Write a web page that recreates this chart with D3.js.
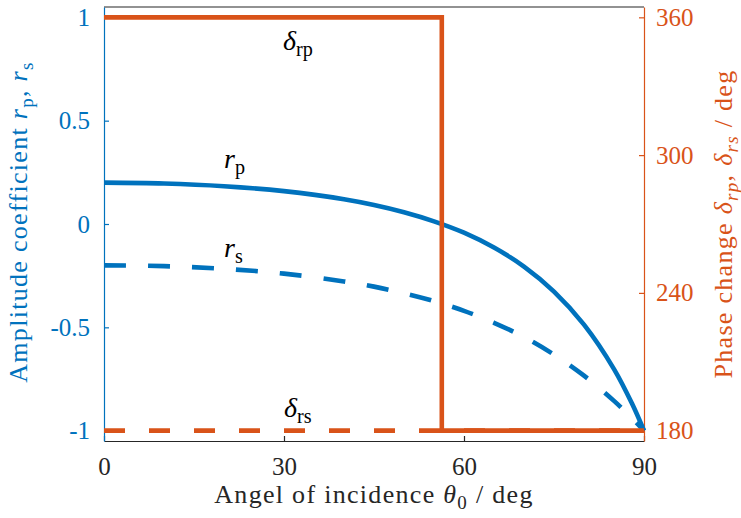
<!DOCTYPE html>
<html><head><meta charset="utf-8"><script src="https://cdn.jsdelivr.net/npm/d3@7"></script></head>
<body style="margin:0">
<svg id="chart" width="741" height="518" style="display:block;font-family:'Liberation Serif'"></svg>
<script>
// Fresnel reflection, air -> glass: amplitude coefficients and phase changes
const angles = [0, 10, 20, 30, 40, 45, 50, 55, 60, 65, 70, 75, 80, 85, 88, 90];
const rp = [0.200, 0.196, 0.183, 0.159, 0.120, 0.092, 0.057, 0.013, -0.042, -0.114, -0.206, -0.327, -0.487, -0.702, -0.869, -1.000];
const rs = [-0.200, -0.204, -0.217, -0.240, -0.278, -0.303, -0.335, -0.373, -0.420, -0.478, -0.547, -0.632, -0.734, -0.856, -0.940, -1.000];

const phaseRpAngles = [0, 56.3, 56.3, 90];
const phaseRp = [360, 360, 180, 180];
const phaseRsAngles = [0, 90];
const phaseRs = [180, 180];

const xTicks = [0, 30, 60, 90];
const leftTicks = [-1, -0.5, 0, 0.5, 1];
const leftTickLabels = ["-1", "-0.5", "0", "0.5", "1"];
const rightTicks = [180, 240, 300, 360];

const BLUE = "#0072BD", ORANGE = "#D95319", DARK = "#262626";
const FONT = '"Liberation Serif"';

const svg = d3.select("#chart");
const plotLeft = 104, plotRight = 644, plotTop = 7, plotBottom = 441;

const x = d3.scaleLinear().domain([0, 90]).range([plotLeft, plotRight]);
const yL = d3.scaleLinear().domain([-1.05, 1.05]).range([plotBottom, plotTop]);
const yR = d3.scaleLinear().domain([175.5, 364.5]).range([plotBottom, plotTop]);

// style an axis; labels are placed from their measured width ("end", "middle" or "start")
function styleTicks(g, color, anchor) {
  g.attr("font-family", null).attr("font-size", null).attr("text-anchor", null);
  g.select(".domain").attr("stroke", color).attr("stroke-width", 1.2);
  g.selectAll(".tick line").attr("stroke", color).attr("stroke-width", 1.2);
  g.selectAll(".tick text")
    .style("fill", color).style("font-family", FONT).style("font-size", "25px")
    .each(function () {
      const t = d3.select(this);
      const w = this.getComputedTextLength();
      const x0 = +t.attr("x") || 0;
      if (anchor === "end") t.attr("x", x0 - w);
      else if (anchor === "middle") t.attr("x", x0 - w / 2);
    });
}

// frame top line
svg.append("line").attr("x1", plotLeft).attr("x2", plotRight).attr("y1", plotTop).attr("y2", plotTop)
  .attr("stroke", DARK).attr("stroke-width", 1.2);

// bottom axis
const xAxis = d3.axisBottom(x).tickValues(xTicks).tickSizeInner(-5).tickSizeOuter(0).tickPadding(16);
const gx = svg.append("g").attr("transform", `translate(0,${plotBottom})`).call(xAxis);
styleTicks(gx, DARK, "middle");

// left axis
const yAxisL = d3.axisLeft(yL).tickValues(leftTicks).tickFormat((d, i) => leftTickLabels[i])
  .tickSizeInner(-5).tickSizeOuter(0).tickPadding(14);
const gl = svg.append("g").attr("transform", `translate(${plotLeft},0)`).call(yAxisL);
styleTicks(gl, BLUE, "end");

// right axis
const yAxisR = d3.axisRight(yR).tickValues(rightTicks).tickSizeInner(-5).tickSizeOuter(0).tickPadding(12);
const gr = svg.append("g").attr("transform", `translate(${plotRight},0)`).call(yAxisR);
styleTicks(gr, ORANGE, "start");

// amplitude curves
const lineL = d3.line().x((d, i) => x(angles[i])).y(d => yL(d)).curve(d3.curveCatmullRom);
svg.append("path").attr("d", lineL(rp)).attr("fill", "none")
  .attr("stroke", BLUE).attr("stroke-width", 4.6);
svg.append("path").attr("d", lineL(rs)).attr("fill", "none")
  .attr("stroke", BLUE).attr("stroke-width", 4.6).attr("stroke-dasharray", "22 22");

// phase curves
const lineRs = d3.line().x((d, i) => x(phaseRsAngles[i])).y(d => yR(d));
svg.append("path").attr("d", lineRs(phaseRs)).attr("fill", "none")
  .attr("stroke", ORANGE).attr("stroke-width", 4.6).attr("stroke-dasharray", "21 24");
const lineRp = d3.line().x((d, i) => x(phaseRpAngles[i])).y(d => yR(d));
svg.append("path").attr("d", lineRp(phaseRp)).attr("fill", "none")
  .attr("stroke", ORANGE).attr("stroke-width", 4.6);

// helper: symbol with subscript
function symbolLabel(g, sym, sub, size) {
  const t = g.append("text").style("font-family", FONT).style("font-size", size + "px").attr("fill", "#000");
  t.append("tspan").style("font-style", "italic").text(sym);
  t.append("tspan").style("font-size", (size * 0.72) + "px").attr("dy", size * 0.22).text(sub);
  return t;
}

// curve labels
symbolLabel(svg, "δ", "rp", 28).attr("x", 283).attr("y", 50);
symbolLabel(svg, "r", "p", 28).attr("x", 224).attr("y", 168);
symbolLabel(svg, "r", "s", 28).attr("x", 224).attr("y", 257);
symbolLabel(svg, "δ", "rs", 28).attr("x", 284).attr("y", 417);

// axis title helper: parts are [text, italic, subscript]; centred on (0,0) of its group
function title(g, parts, color) {
  const t = g.append("text").style("fill", color)
    .style("font-family", FONT).style("font-size", "26px").style("letter-spacing", "1.3px");
  let down = false;
  parts.forEach(([txt, it, sub]) => {
    const s = t.append("tspan").text(txt);
    if (it) s.style("font-style", "italic");
    if (sub && !down) { s.attr("dy", 6).style("font-size", "19px"); down = true; }
    else if (sub) { s.style("font-size", "19px"); }
    else if (down) { s.attr("dy", -6); down = false; }
  });
  t.attr("x", -t.node().getComputedTextLength() / 2);
  return t;
}

// x axis title
title(svg.append("g").attr("transform", `translate(${(plotLeft + plotRight) / 2},503)`),
  [["Angel of incidence "], ["θ", true], ["0", false, true], [" / deg"]], DARK);

// left axis title
title(svg.append("g").attr("transform", "translate(27,222) rotate(-90)"),
  [["Amplitude coefficient "], ["r", true], ["p", false, true], [", "], ["r", true], ["s", false, true]], BLUE);

// right axis title
title(svg.append("g").attr("transform", "translate(732,224) rotate(-90)"),
  [["Phase change "], ["δ", true], ["rp", true, true], [", "], ["δ", true], ["rs", true, true], [" / deg"]], ORANGE);
</script>
</body>
</html>
